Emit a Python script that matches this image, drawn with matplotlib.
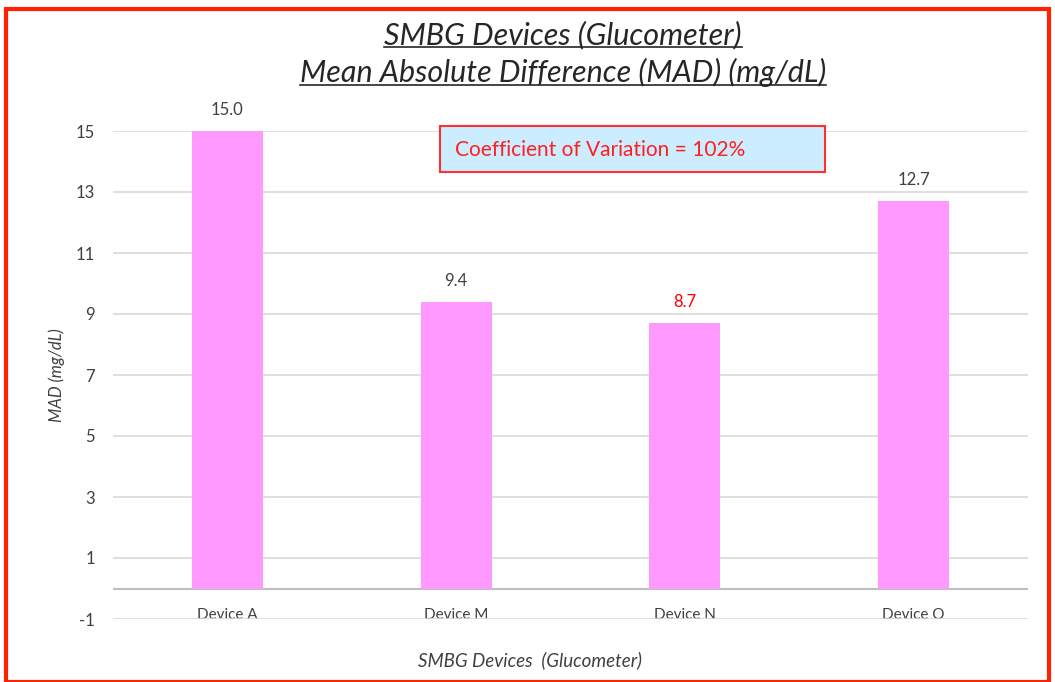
import numpy as np
import matplotlib.pyplot as plt
from matplotlib.patches import Rectangle
from matplotlib.lines import Line2D

devices = ['Device A', 'Device M', 'Device N', 'Device O']
mad_values = [15.0, 9.4, 8.7, 12.7]
label_colors = ['#404040', '#404040', '#FF0000', '#404040']
y_ticks = [-1, 1, 3, 5, 7, 9, 11, 13, 15]
cv_text = 'Coefficient of Variation = 102%'

plt.rcParams['font.family'] = ['Lato', 'DejaVu Sans']

fig = plt.figure(figsize=(10.55, 6.82), dpi=100)
W, H = 1055, 682
# plot area in pixels: x 113..1028, y 131..619 (from top)
ax = fig.add_axes([113 / W, 1 - 619 / H, (1028 - 113) / W, (619 - 131) / H])

x = np.arange(len(devices))
ax.bar(x, mad_values, width=0.31, color='#FF99FF', zorder=3)
ax.set_xlim(-0.5, len(devices) - 0.5)
ax.set_ylim(-1, 15)
ax.set_yticks(y_ticks)
ax.set_yticklabels([str(t) for t in y_ticks])
ax.yaxis.grid(True, color='#D9D9D9', linewidth=1.2, zorder=0)
ax.axhline(0, color='#BFBFBF', linewidth=1.5, zorder=2)
ax.set_xticks(x)
ax.set_xticklabels(devices)
ax.tick_params(axis='x', length=0, labelsize=11, colors='#404040', pad=-8)
ax.tick_params(axis='y', length=0, labelsize=12, colors='#404040', pad=13)
for s in ax.spines.values():
    s.set_visible(False)

for xi, v, c in zip(x, mad_values, label_colors):
    ax.annotate('{:.1f}'.format(v), (xi, v), xytext=(0, 15), textcoords='offset points',
                ha='center', va='center', fontsize=12, color=c)

# coefficient of variation box (pixels 440..825 x, 126..172 y)
fig.add_artist(Rectangle((440 / W, 1 - 172 / H), (825 - 440) / W, (172 - 126) / H,
                         transform=fig.transFigure, facecolor='#CCECFF', edgecolor='#FF3030',
                         linewidth=1.5, zorder=5))
fig.text(455 / W, 1 - 150 / H, cv_text, ha='left', va='center', fontsize=15,
         color='#FF2020', zorder=6)

fig.text(57 / W, 1 - 375 / H, 'MAD (mg/dL)', ha='center', va='center', rotation=90,
         fontsize=12, style='italic', color='#404040')
fig.text(530 / W, 1 - 660 / H, 'SMBG Devices  (Glucometer)', ha='center', va='center',
         fontsize=13.5, style='italic', color='#404040')

titles = [fig.text(563 / W, 1 - 35 / H, 'SMBG Devices (Glucometer)', ha='center', va='center',
                   fontsize=22, style='italic', color='#262626'),
          fig.text(563 / W, 1 - 72 / H, 'Mean Absolute Difference (MAD) (mg/dL)', ha='center', va='center',
                   fontsize=22, style='italic', color='#262626')]

# underline the title lines
fig.canvas.draw()
renderer = fig.canvas.get_renderer()
for t in titles:
    bb = t.get_window_extent(renderer)
    yy = (bb.y0 + 2) / H
    fig.add_artist(Line2D([bb.x0 / W, bb.x1 / W], [yy, yy], color='#262626', linewidth=1.2))

# red frame around the chart
fig.add_artist(Rectangle((6 / W, 0.0), (1049 - 6) / W, 1 - 9 / H, transform=fig.transFigure,
                         fill=False, edgecolor='#FF2200', linewidth=3))

fig.savefig('out.png', dpi=100)
